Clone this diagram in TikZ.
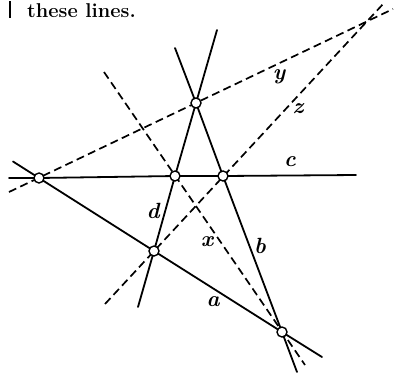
\documentclass[tikz,border=0pt]{standalone}
\begin{document}
\begin{tikzpicture}[x=1pt,y=-1pt,
  solidline/.style={line width=1.8pt,line cap=round},
  dashline/.style={line width=1.7pt,dash pattern=on 8pt off 4.5pt},
  pt/.style={circle,draw,line width=1.4pt,fill=white,inner sep=0pt,minimum size=10pt},
  lab/.style={font=\fontsize{22}{24}\selectfont\bfseries\itshape,inner sep=0pt}]
\useasboundingbox (0,0) rectangle (396,376);
% header text
\node[anchor=base west,inner sep=0pt,font=\fontsize{20}{22}\selectfont\bfseries] (hdr) at (27,17) {these lines.};
\coordinate (barT) at (10,1);
\coordinate (barB) at (10,18);
\draw[line width=1.6pt] (barT) -- (barB);
% intersection points
\coordinate (P1) at (39,178);
\coordinate (P2) at (196,103);
\coordinate (P3) at (175,176);
\coordinate (P4) at (223,176);
\coordinate (P5) at (154,251);
\coordinate (P6) at (282,332);
% line ends
\coordinate (aL) at (13,161.5);
\coordinate (aR) at (322,357);
\coordinate (bT) at (175,48);
\coordinate (bB) at (297,372);
\coordinate (cL) at (9,178);
\coordinate (cR) at (356,175);
\coordinate (dT) at (217,30);
\coordinate (dB) at (138,307);
\coordinate (xT) at (104,72);
\coordinate (xB) at (305,365);
\coordinate (yL) at (9,192);
\coordinate (yR) at (393,9);
\coordinate (zL) at (105,304);
\coordinate (zR) at (384,3);
% solid lines
\draw[solidline] (aL) -- (P1) -- (P5) -- (P6) -- (aR);
\draw[solidline] (bT) -- (P2) -- (P4) -- (P6) -- (bB);
\draw[solidline] (cL) -- (P1) -- (P3) -- (P4) -- (cR);
\draw[solidline] (dT) -- (P2) -- (P3) -- (P5) -- (dB);
% dashed lines
\draw[dashline] (xT) -- (xB);
\draw[dashline] (yL) -- (yR);
\draw[dashline] (zL) -- (zR);
% points
\node[pt] (n1) at (P1) {};
\node[pt] (n2) at (P2) {};
\node[pt] (n3) at (P3) {};
\node[pt] (n4) at (P4) {};
\node[pt] (n5) at (P5) {};
\node[pt] (n6) at (P6) {};
% labels
\node[lab] (ly) at (279,77) {y};
\node[lab] (lz) at (298,109) {z};
\node[lab] (lc) at (290,162) {c};
\node[lab] (ld) at (153,211) {d};
\node[lab] (lx) at (207,242) {x};
\node[lab] (lb) at (260,246) {b};
\node[lab] (la) at (213,302) {a};
\end{tikzpicture}
\end{document}
